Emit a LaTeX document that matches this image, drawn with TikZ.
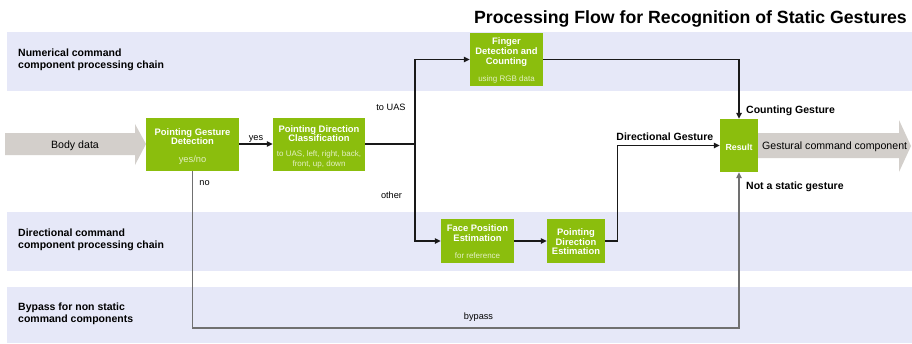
\documentclass[tikz,border=0pt]{standalone}
\usepackage{fontspec}
\setmainfont{Liberation Sans}
\usetikzlibrary{arrows.meta}

\definecolor{procgreen}{RGB}{139,190,13}
\definecolor{notegreen}{RGB}{228,240,196}
\definecolor{bandblue}{RGB}{230,232,248}
\definecolor{datagray}{RGB}{211,207,203}
\definecolor{bypassgray}{RGB}{112,112,112}

\tikzset{
  band/.style={fill=bandblue, draw=none},
  txt/.style={inner sep=0, yshift=-1.5pt},
  bandlabel/.style={txt, anchor=west, align=left,
    font=\fontsize{10.5}{12}\selectfont\bfseries},
  procbox/.style={rectangle, fill=procgreen, draw=none, inner sep=0},
  boxtitle/.style={txt, text=white, align=center,
    font=\fontsize{9.4}{9.6}\selectfont\bfseries},
  boxnote/.style={txt, text=notegreen, align=center,
    font=\fontsize{8}{10}\selectfont},
  flow/.style={line width=1.4pt, draw=black!90},
  flowarrow/.style={flow, -{Triangle[length=6pt,width=5.5pt]}},
  bypassline/.style={line width=1.4pt, draw=bypassgray,
    -{Triangle[length=6pt,width=5.5pt]}},
  edgelabel/.style={txt, font=\fontsize{9.2}{11}\selectfont},
  resultlabel/.style={txt, anchor=west,
    font=\fontsize{10.5}{12}\selectfont\bfseries},
  datalabel/.style={txt, font=\fontsize{10.6}{12}\selectfont}
}

\begin{document}
\begin{tikzpicture}[x=1pt, y=-1pt]
\useasboundingbox (0,0) rectangle (912,343);

% swim lanes
\fill[band] (7,32) rectangle (912,91);
\fill[band] (7,212) rectangle (912,271);
\fill[band] (7,287) rectangle (912,343);

\node[bandlabel] (laneA) at (18,58.5) {Numerical command\\component processing chain};
\node[bandlabel] (laneB) at (18,238) {Directional command\\component processing chain};
\node[bandlabel] (laneC) at (18,312.5) {Bypass for non static\\command components};

% title
\node[txt, anchor=east, font=\fontsize{17.7}{20}\selectfont\bfseries]
  (title) at (907,17) {Processing Flow for Recognition of Static Gestures};

% input and output data arrows
\fill[datagray] (5,133) -- (135,133) -- (135,124) -- (146,144) -- (135,165)
  -- (135,155) -- (5,155) -- cycle;
\node[datalabel] (bodydata) at (75,144) {Body data};

\fill[datagray] (758,133) -- (899,133) -- (899,120) -- (911,146) -- (899,172)
  -- (899,158) -- (758,158) -- cycle;
\node[datalabel, anchor=west] (gesturalout) at (762,145.5) {Gestural command component};

% processing boxes
\node[procbox, minimum width=93pt, minimum height=53pt] (pgd) at (192.5,144.5) {};
\node[boxtitle] (pgdT) at (192.5,135) {Pointing Gesture\\Detection};
\node[boxnote, font=\fontsize{9.3}{10}\selectfont] (pgdN) at (192.5,159) {yes/no};

\node[procbox, minimum width=92pt, minimum height=53pt] (pdc) at (319,144.5) {};
\node[boxtitle] (pdcT) at (319,132) {Pointing Direction\\Classification};
\node[boxnote] (pdcN) at (319,158) {to UAS, left, right, back,\\front, up, down};

\node[procbox, minimum width=73pt, minimum height=53pt] (fdc) at (506.5,59.5) {};
\node[boxtitle] (fdcT) at (506.5,50.5) {Finger\\Detection and\\Counting};
\node[boxnote] (fdcN) at (506.5,78) {using RGB data};

\node[procbox, minimum width=73pt, minimum height=44pt] (fpe) at (477.5,241) {};
\node[boxtitle] (fpeT) at (477.5,231.5) {Face Position\\Estimation};
\node[boxnote] (fpeN) at (477.5,254) {for reference};

\node[procbox, minimum width=58pt, minimum height=44pt] (pde) at (576,241) {};
\node[boxtitle] (pdeT) at (576,240.5) {Pointing\\Direction\\Estimation};

\node[procbox, minimum width=38pt, minimum height=53pt] (res) at (739,145.5) {};
\node[boxtitle, font=\fontsize{8.8}{10}\selectfont\bfseries] (resT) at (739,145.5) {Result};

% branching point after the direction classification
\coordinate (split) at (415,144);

% connectors
\draw[flowarrow] (pgd.east |- 0,144) -- (pdc.west |- 0,144);
\draw[flow] (pdc.east |- 0,144) -- (split);
\draw[flowarrow] (split) |- (fdc.west);
\draw[flowarrow] (split) |- (fpe.west);
\draw[flowarrow] (fpe) -- (pde);
\draw[flowarrow] (pde.east) -- ++(12,0) |- (res.west);
\draw[flowarrow] (fdc.east) -| (res.north);
\draw[bypassline] (pgd.south) -- (pgd.south |- 0,328) -| (res.south);

% connector labels
\node[edgelabel] (lblyes) at (256,137.5) {yes};
\node[edgelabel] (lblno) at (204.5,182) {no};
\node[edgelabel] (lbluas) at (391,106) {to UAS};
\node[edgelabel] (lblother) at (391.5,194) {other};
\node[edgelabel] (lblbypass) at (478.5,316) {bypass};

\node[resultlabel] (lblcount) at (746,109) {Counting Gesture};
\node[resultlabel, anchor=east] (lbldir) at (713.5,135) {Directional Gesture};
\node[resultlabel] (lblnot) at (746,185) {Not a static gesture};
\end{tikzpicture}
\end{document}
